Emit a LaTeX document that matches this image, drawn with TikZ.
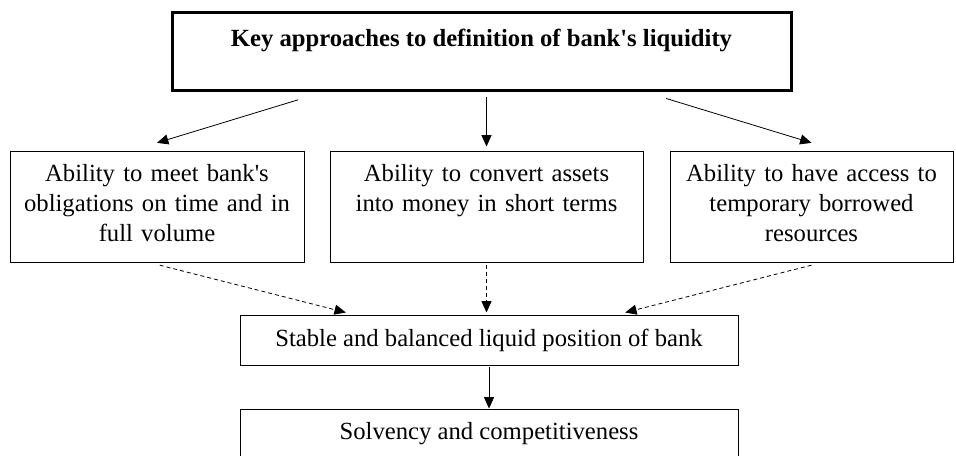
\documentclass[tikz,border=0pt]{standalone}
\usepackage{fontspec}
\setmainfont{Liberation Serif}
\usetikzlibrary{positioning,calc,arrows.meta}

\begin{document}
\begin{tikzpicture}[x=0.75pt, y=-0.75pt, font=\fontsize{18.5}{22.5}\selectfont,
  main/.style = {draw, rectangle, inner sep=0pt, align=center},
  keybox/.style = {main, line width=2.25pt, minimum width=464.25pt, text height=25pt, text depth=33.5pt},
  ability/.style = {main, line width=0.75pt, text height=21.75pt, text depth=60.75pt},
  result/.style = {main, line width=0.75pt, minimum width=373.5pt, minimum height=37.5pt},
  arr/.style = {-{Triangle[length=8.5pt, width=7.5pt]}, line width=0.6pt},
  darr/.style = {arr, dash pattern=on 3pt off 2.25pt}]
        \useasboundingbox (0,0) rectangle (956,456);
        % boxes
        \node[keybox] (key) at (481.5,52) {\bfseries Key approaches to definition of bank\textquotesingle s liquidity};
        \node[ability, text width=234.75pt, below=44.25pt of key, xshift=3.75pt] (conv) {Ability to convert assets\\into money in short terms};
        \node[ability, text width=220.5pt, left=18.75pt of conv] (meet) {Ability to meet bank\textquotesingle s\\obligations on time and in\\full volume};
        \node[ability, text width=212.25pt, right=19.5pt of conv] (access) {Ability to have access to\\temporary borrowed\\resources};
        \node[result, below=39pt of conv, xshift=1.9pt] (stable) {Stable and balanced liquid position of bank};
        \node[result, below=32.25pt of stable] (solv) {Solvency and competitiveness};
        % arrows
        \draw[arr] ($(key.south west)!0.205!(key.south east)+(0,-5.5pt)$) -- ($(meet.north)+(0,6.5pt)$);
        \draw[arr, shorten <=3.4pt, shorten >=3.75pt] (key.south -| conv.north) -- (conv.north);
        \draw[arr] ($(key.south west)!0.797!(key.south east)+(0,-4.5pt)$) -- ($(access.north)+(0,6.5pt)$);
        \draw[darr] ($(meet.south)+(2pt,-2pt)$) -- ($(stable.north west)!0.213!(stable.north east)+(0,1.5pt)$);
        \draw[darr, shorten <=2pt, shorten >=1.5pt] (conv.south) -- (conv.south |- stable.north);
        \draw[darr] ($(access.south)+(0,-2pt)$) -- ($(stable.north west)!0.773!(stable.north east)+(0,1.5pt)$);
        \draw[arr, shorten <=1pt] (stable) -- (solv);
\end{tikzpicture}
\end{document}
